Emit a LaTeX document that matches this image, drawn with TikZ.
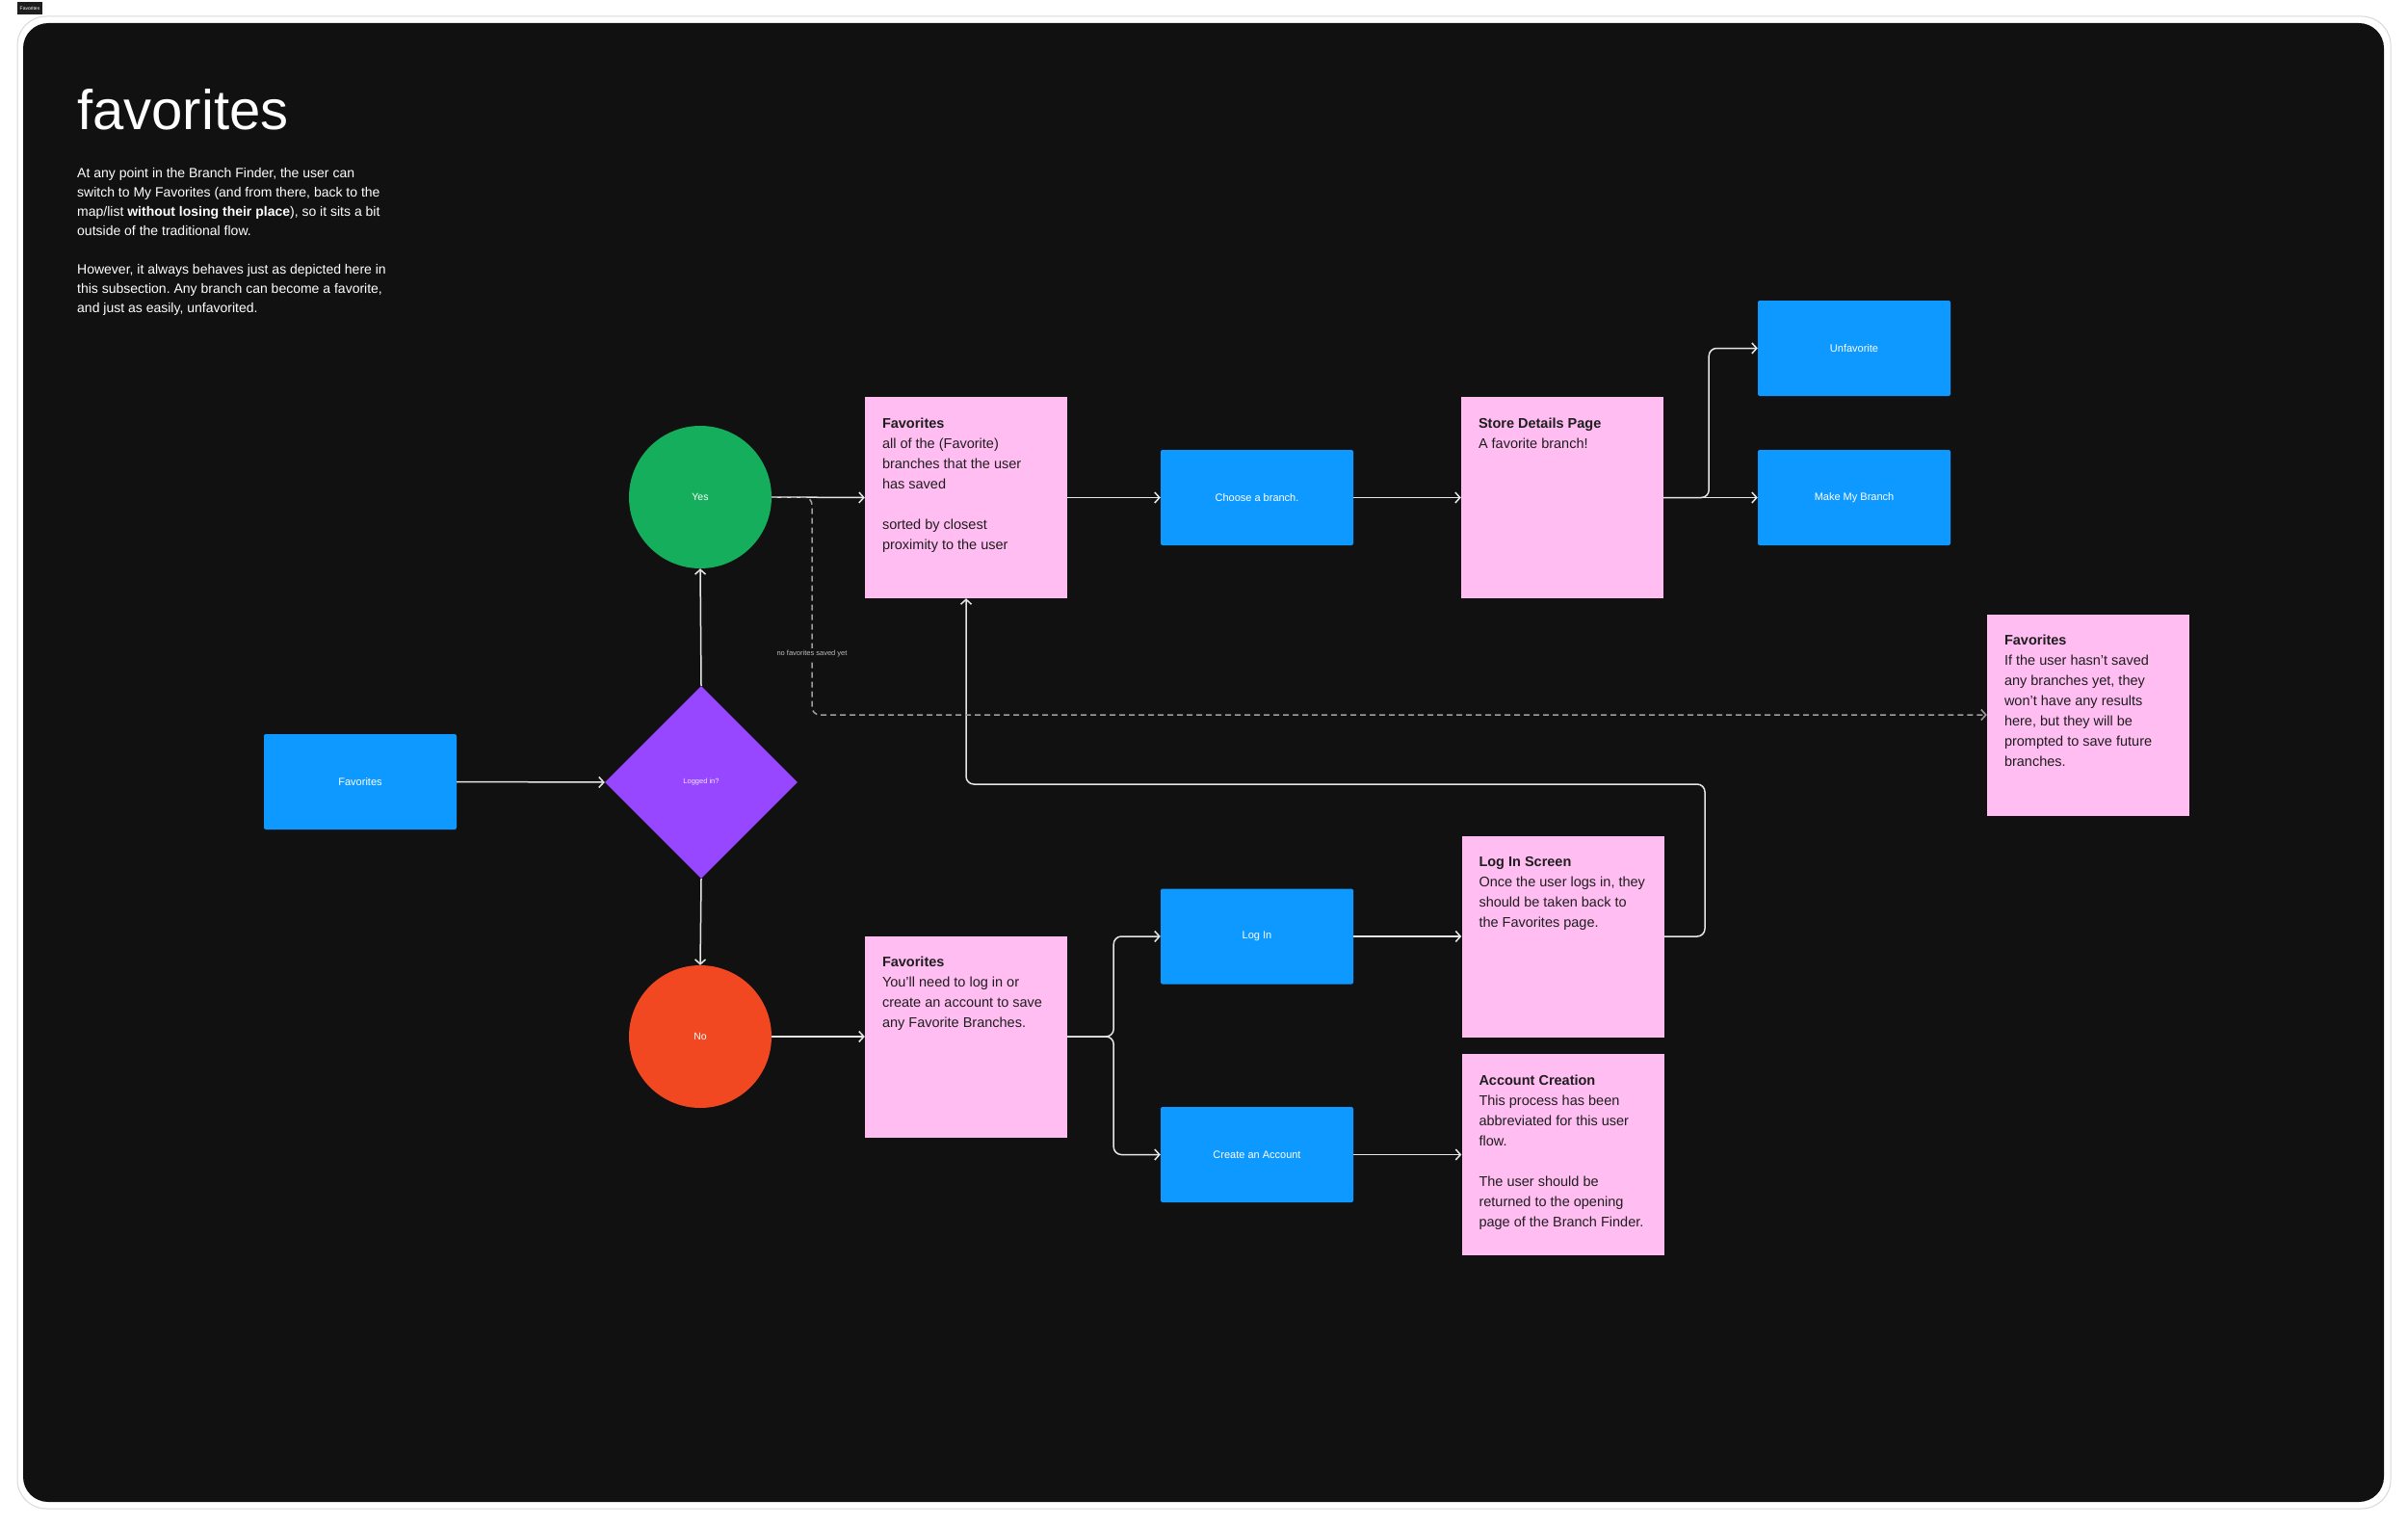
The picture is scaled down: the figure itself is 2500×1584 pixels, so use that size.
\documentclass[tikz,border=0pt]{standalone}
\usepackage{fontspec}
\setmainfont{Liberation Sans}
\frenchspacing
\usetikzlibrary{shapes.geometric,arrows.meta}
\definecolor{panel}{HTML}{111111}
\definecolor{framegray}{HTML}{D9D9D9}
\definecolor{boxblue}{HTML}{0D99FF}
\definecolor{notepink}{HTML}{FFBDF2}
\definecolor{yesgreen}{HTML}{14AE5C}
\definecolor{nored}{HTML}{F24822}
\definecolor{askpurple}{HTML}{9747FF}
\definecolor{notetext}{HTML}{1E1E1E}
\definecolor{wire}{HTML}{E6E6E6}
\definecolor{dashwire}{HTML}{9E9E9E}
\newcommand{\notebody}[2]{\begin{minipage}[c][166pt][t]{174pt}\raggedright\fontsize{14.5}{21}\selectfont\textbf{#1}\\#2\end{minipage}}
\tikzset{
    screen/.style = {fill=boxblue, rounded corners=2pt, minimum width=200pt, minimum height=99pt, inner sep=0pt, text=white, font=\fontsize{11}{13}\selectfont},
    sticky/.style = {fill=notepink, minimum width=210pt, minimum height=209pt, inner sep=0pt, text=notetext},
    answer/.style = {circle, minimum size=148pt, inner sep=0pt, text=white, font=\fontsize{10.5}{12}\selectfont},
    wireto/.style = {draw=wire, line width=1.5pt, rounded corners=8pt, -{Straight Barb[length=5pt,width=11pt]}},
    dashto/.style = {draw=dashwire, line width=1.5pt, dash pattern=on 6pt off 4pt, rounded corners=8pt, -{Straight Barb[length=5pt,width=11pt]}}
}
\begin{document}
\begin{tikzpicture}[x=1pt, y=-1pt]
                    \useasboundingbox (0,0) rectangle (2500,1584);
                    \fill[white] (0,0) rectangle (2500,1584);
                    \draw[framegray, line width=1pt, rounded corners=30pt] (18,17) rectangle (2482,1566);
                    \fill[panel, rounded corners=26pt] (24,24) rectangle (2475,1559);
                    \path   node[fill=notetext, inner sep=0pt, minimum width=26pt, minimum height=13pt, text=white, font=\fontsize{5}{6}\selectfont] (tag) at (31,8.5) {Favorites}
                            node[anchor=base west, inner sep=0pt, text=white, font=\fontsize{58}{70}\selectfont] (title) at (80,135) {favorites}
                            node[anchor=north west, inner sep=0pt, align=left, text=white, font=\fontsize{14}{20}\selectfont] (intro) at (80,174) {At any point in the Branch Finder, the user can\\switch to My Favorites (and from there, back to the\\map/list \textbf{without losing their place}), so it sits a bit\\outside of the traditional flow.\\[20pt]However, it always behaves just as depicted here in\\this subsection. Any branch can become a favorite,\\and just as easily, unfavorited.};
                    \path   node[screen] (favBtn) at (374,811.5) {Favorites}
                            node[diamond, shape aspect=1, fill=askpurple, minimum width=200pt, minimum height=200pt, inner sep=0pt, text=white!88!askpurple, font=\fontsize{7.5}{9}\selectfont] (logged) at (728,812) {Logged in?}
                            node[answer, fill=yesgreen] (yes) at (727,516) {Yes}
                            node[answer, fill=nored] (no) at (727,1076) {No}
                            node[sticky] (favAll) at (1003,516.5) {\notebody{Favorites}{all of the (Favorite)\\branches that the user\\has saved\\[21pt]sorted by closest\\proximity to the user}}
                            node[screen] (choose) at (1305,516.5) {Choose a branch.}
                            node[sticky] (store) at (1622,516.5) {\notebody{Store Details Page}{A favorite branch!}}
                            node[screen] (unfav) at (1925,361.5) {Unfavorite}
                            node[screen] (makeMy) at (1925,516.5) {Make My Branch}
                            node[sticky] (favNone) at (2168,742) {\notebody{Favorites}{If the user hasn’t saved\\any branches yet, they\\won’t have any results\\here, but they will be\\prompted to save future\\branches.}}
                            node[sticky] (favNeed) at (1003,1076) {\notebody{Favorites}{You’ll need to log in or\\create an account to save\\any Favorite Branches.}}
                            node[screen] (login) at (1305,972) {Log In}
                            node[screen] (create) at (1305,1198.5) {Create an Account}
                            node[sticky] (loginScr) at (1622.5,972) {\notebody{Log In Screen}{Once the user logs in, they\\should be taken back to\\the Favorites page.}}
                            node[sticky] (acct) at (1622.5,1198.5) {\notebody{Account Creation}{This process has been\\abbreviated for this user\\flow.\\[21pt]The user should be\\returned to the opening\\page of the Branch Finder.}};
                    \coordinate (dashTurn) at (843,742);
                    \coordinate (backTurn) at (1770,814);
                    \draw[wireto] (favBtn.east) -- (logged.west);
                    \draw[wireto] (logged.north) -- (yes.south);
                    \draw[wireto] (logged.south) -- (no.north);
                    \draw[wireto] (yes.east) -- (favAll.west);
                    \draw[wireto] (favAll.east) -- (choose.west);
                    \draw[wireto] (choose.east) -- (store.west);
                    \draw[wireto] (store.east) -- (makeMy.west);
                    \draw[wireto] (store.east) -- ++(47,0) |- (unfav.west);
                    \draw[wireto] (no.east) -- (favNeed.west);
                    \draw[wireto] (favNeed.east) -- ++(48,0) |- (login.west);
                    \draw[wireto] (favNeed.east) -- ++(48,0) |- (create.west);
                    \draw[wireto] (login.east) -- (loginScr.west);
                    \draw[wireto] (create.east) -- (acct.west);
                    \draw[wireto] (loginScr.east) -| (backTurn) -| (favAll.south);
                    \draw[dashto] (yes.east) -| (dashTurn) node[pos=0.86, fill=panel, inner sep=2pt, text=white!75!black, font=\fontsize{7.5}{9}\selectfont] (noneLbl) {no favorites saved yet} -- (favNone.west);
                \end{tikzpicture}
\end{document}
